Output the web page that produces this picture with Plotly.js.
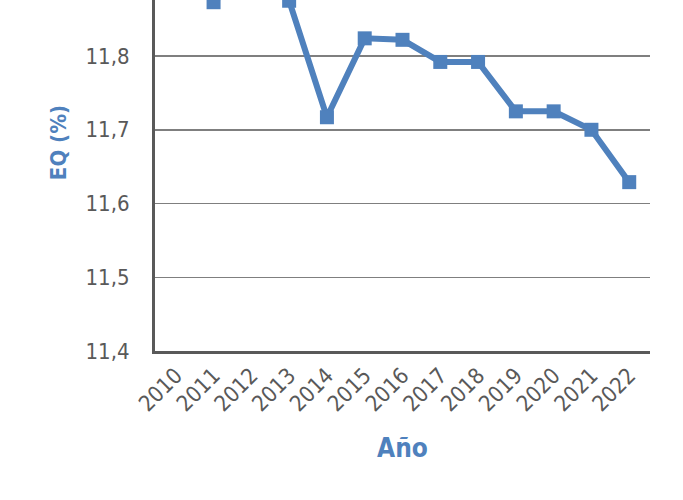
<!DOCTYPE html>
<html><head><meta charset="utf-8">
<script src="https://cdn.plot.ly/plotly-3.0.1.min.js"></script>
<style>body{margin:0;padding:0;background:#fff}#c{width:683px;height:500px}</style>
</head><body><div id="c"></div>
<script>
const years = ["2010","2011","2012","2013","2014","2015","2016","2017","2018","2019","2020","2021","2022"];
const eq = [11.95, 11.873, 11.92, 11.875, 11.717, 11.824, 11.822, 11.792, 11.792, 11.725, 11.725, 11.70, 11.629];
const yTicks = [11.4, 11.5, 11.6, 11.7, 11.8];

const blue = "#4f81bd";
const font = "DejaVu Sans Condensed, Liberation Sans Narrow, sans-serif";

Plotly.newPlot("c", [{
  x: years, y: eq, type: "scatter", mode: "lines+markers",
  line: {color: blue, width: 6},
  marker: {symbol: "square", size: 14, color: blue},
  cliponaxis: true
}], {
  width: 683, height: 500,
  margin: {l: 155, r: 33, t: 0, b: 149},
  paper_bgcolor: "#fff", plot_bgcolor: "#fff",
  separators: ",.",
  showlegend: false,
  xaxis: {
    type: "category",
    range: [-0.55, 12.55],
    tickangle: -45,
    tickfont: {family: font, size: 22, color: "#595959"},
    showline: true, linecolor: "#595959", linewidth: 3,
    showgrid: false, ticks: "",
    title: {text: "<b>Año</b>", font: {family: font, size: 26, color: blue}, standoff: 24}
  },
  yaxis: {
    range: [11.4, 11.876],
    tickvals: yTicks,
    tickformat: ".1f",
    tickfont: {family: font, size: 22, color: "#595959"},
    showline: true, linecolor: "#595959", linewidth: 3,
    showgrid: true, gridcolor: "#7f7f7f", gridwidth: 1.5,
    zeroline: false,
    ticks: "outside", ticklen: 0,
    ticklabelstandoff: 18
  },
  annotations: [{
    text: "<b>EQ (%)</b>", textangle: -90, showarrow: false,
    xref: "paper", yref: "paper", x: -0.196, y: 0.595,
    xanchor: "center", yanchor: "middle",
    font: {family: font, size: 22, color: blue}
  }]
}, {staticPlot: true, displayModeBar: false});
</script></body></html>
